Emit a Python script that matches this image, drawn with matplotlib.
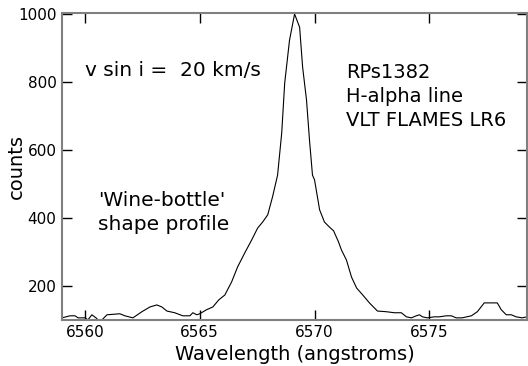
import numpy as np
import matplotlib
matplotlib.use("Agg")
import matplotlib.pyplot as plt

# profil H-alpha
wave = [6559.00, 6559.35, 6559.57, 6559.70, 6560.00, 6560.13, 6560.30, 6560.48,
        6560.57, 6560.74, 6560.96, 6561.52, 6561.74, 6562.09, 6562.48, 6562.83,
        6563.13, 6563.35, 6563.57, 6563.91, 6564.26, 6564.57, 6564.70, 6564.87,
        6565.00, 6565.30, 6565.57, 6565.83, 6566.09, 6566.39, 6566.65, 6566.96,
        6567.26, 6567.52, 6567.74, 6567.96, 6568.17, 6568.39, 6568.57, 6568.70,
        6568.91, 6569.13, 6569.35, 6569.48, 6569.65, 6569.78, 6569.91, 6570.00,
        6570.22, 6570.43, 6570.65, 6570.83, 6571.04, 6571.17, 6571.39, 6571.61,
        6571.83, 6572.09, 6572.39, 6572.74, 6573.13, 6573.48, 6573.78, 6574.00,
        6574.22, 6574.43, 6574.57, 6574.70, 6574.91, 6575.22, 6575.43, 6575.74,
        6575.96, 6576.17, 6576.43, 6576.83, 6577.09, 6577.39, 6577.96, 6578.13,
        6578.35, 6578.57, 6578.78, 6579.04, 6579.26]
counts = [106, 112, 112, 106, 106, 100, 115, 106,
          100, 100, 115, 118, 112, 106, 124, 138,
          144, 138, 126, 121, 112, 112, 121, 115,
          118, 130, 138, 159, 173, 212, 256, 297,
          335, 370, 388, 409, 462, 526, 650, 797,
          923, 1000, 961, 844, 747, 629, 526, 512,
          424, 388, 373, 362, 330, 306, 276, 226,
          194, 174, 150, 126, 124, 121, 121, 109,
          106, 112, 115, 109, 106, 109, 109, 112,
          112, 106, 106, 112, 124, 150, 150, 130,
          115, 115, 109, 106, 109]

xticks = [6560, 6565, 6570, 6575]
yticks = [200, 400, 600, 800, 1000]

fig = plt.figure(figsize=(5.28, 3.66), dpi=100)
ax = fig.add_axes([0.1174, 0.126, 0.881, 0.8385])

ax.plot(wave, counts, color="black", lw=0.8)

ax.set_xlim(6559.0, 6579.26)
ax.set_ylim(100, 1003)
ax.set_xticks(xticks)
ax.set_yticks(yticks)
ax.tick_params(direction="in", length=7, width=1, top=True, right=True,
               labelsize=11, pad=4)
for s in ax.spines.values():
    s.set_color("#808080")
    s.set_linewidth(1.5)

ax.set_xlabel("Wavelength (angstroms)", fontsize=14, labelpad=3.5)
ax.set_ylabel("counts", fontsize=14)
ax.yaxis.set_label_coords(-0.078, 0.5)

ax.text(6560.0, 835, "v sin i =  20 km/s", fontsize=14.5, va="center", ha="left")
ax.text(6571.39, 757, "RPs1382\nH-alpha line\nVLT FLAMES LR6", fontsize=14,
        va="center", ha="left", linespacing=1.32)
ax.text(6560.57, 416, "'Wine-bottle'\nshape profile", fontsize=14.5,
        va="center", ha="left", linespacing=1.35)

fig.savefig("out.png", dpi=100)
